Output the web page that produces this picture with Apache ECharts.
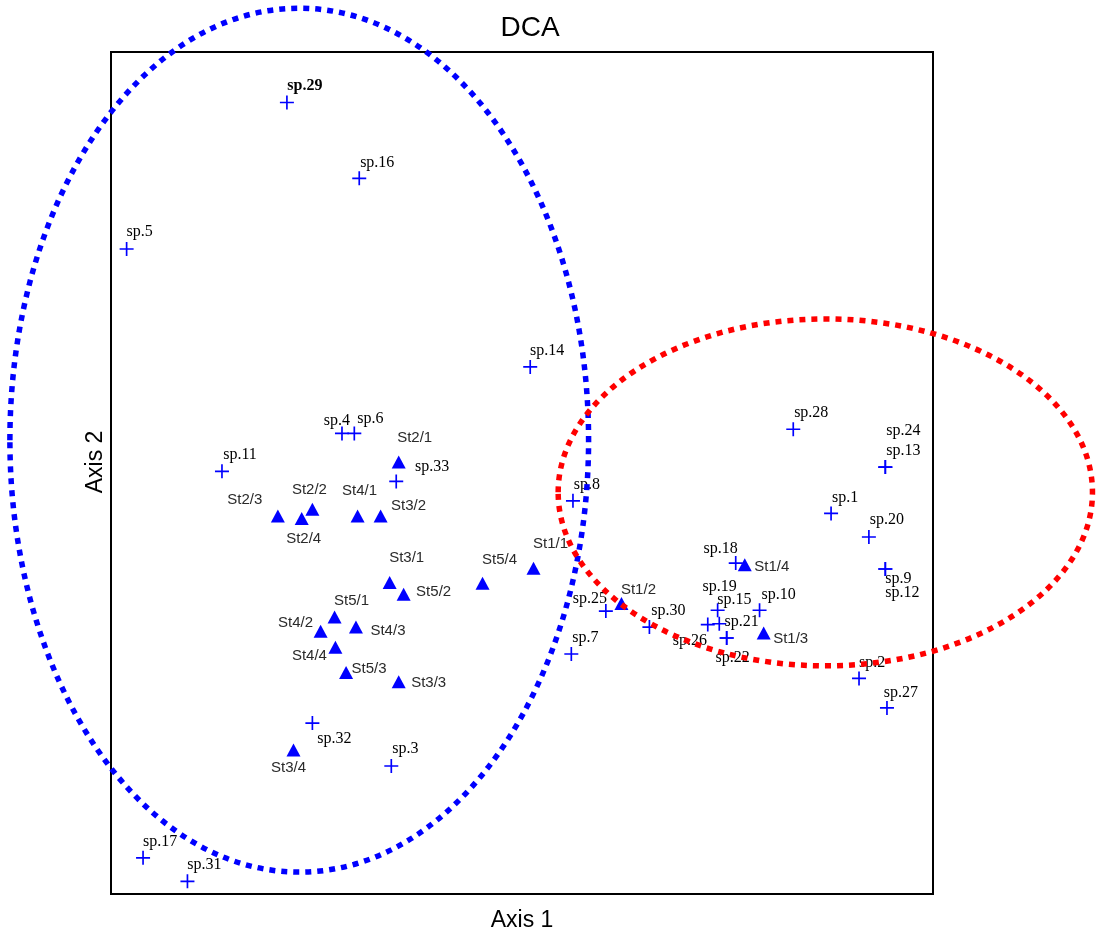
<!DOCTYPE html>
<html>
<head>
<meta charset="utf-8">
<title>DCA</title>
<script src="https://cdn.jsdelivr.net/npm/echarts@6/dist/echarts.min.js"></script>
<style>
  html, body { margin: 0; padding: 0; background: #fff; }
  #chart { width: 1096px; height: 934px; }
</style>
</head>
<body>
<div id="chart"></div>
<script>
// species scores on axis 1 / axis 2
var spNames = ['sp.1','sp.2','sp.3','sp.4','sp.5','sp.6','sp.7','sp.8','sp.9','sp.10','sp.11','sp.12','sp.13','sp.14','sp.15','sp.16','sp.17','sp.18','sp.19','sp.20','sp.21','sp.22','sp.24','sp.25','sp.26','sp.27','sp.28','sp.29','sp.30','sp.31','sp.32','sp.33'];
var spAxis1 = [87.6, 91.0, 34.1, 28.1, 1.9, 29.6, 56.0, 56.2, 94.2, 78.9, 13.5, 94.2, 94.2, 51.0, 74.0, 30.2, 3.9, 76.0, 73.8, 92.2, 74.9, 74.9, 94.2, 60.2, 72.6, 94.4, 83.0, 21.4, 65.5, 9.3, 24.5, 34.7];
var spAxis2 = [45.2, 25.6, 15.2, 54.7, 76.6, 54.7, 28.5, 46.7, 38.6, 33.7, 50.2, 38.6, 50.7, 62.6, 32.1, 85.0, 4.3, 39.3, 33.7, 42.4, 30.4, 30.4, 50.7, 33.6, 32.0, 22.1, 55.2, 94.0, 31.7, 1.5, 20.3, 49.0];

// station scores
var stNames = ['St1/1','St1/2','St1/3','St1/4','St2/1','St2/2','St2/3','St2/4','St3/1','St3/2','St3/3','St3/4','St4/1','St4/2','St4/3','St4/4','St5/1','St5/2','St5/3','St5/4'];
var stAxis1 = [51.4, 62.1, 79.4, 77.1, 35.0, 24.5, 20.3, 23.2, 33.9, 32.8, 35.0, 22.2, 30.0, 25.5, 29.8, 27.3, 27.2, 35.6, 28.6, 45.2];
var stAxis2 = [38.7, 34.5, 31.0, 39.1, 51.3, 45.7, 44.9, 44.6, 37.0, 44.9, 25.2, 17.1, 44.9, 31.2, 31.7, 29.3, 32.9, 35.6, 26.3, 36.9];

// group ellipses (centre and radii, axis units)
var ellAxis1 = [22.9, 86.9];
var ellAxis2 = [53.9, 47.7];
var ellRadius1 = [35.2, 32.5];
var ellRadius2 = [51.3, 20.6];

// label placement (pixels from the marker), kept apart from the scores
var spLabelOffset = [[14,-16],[13,-16],[14,-17],[-5,-13],[13,-17],[16,-15],[14,-16],[14,-16],[13,10],[19,-15],[18,-17],[17,24],[18,-16],[17,-16],[15,-24],[18,-16],[17,-16],[-15,-14],[2,-23],[18,-17],[15,-16],[6,20],[18,-36],[-16,-12],[-18,16],[14,-15],[18,-16],[18,-17],[19,-16],[17,-17],[22,16],[36,-15]];
var stLabelOffset = [[17,-24],[17,-14],[27,6],[27,2],[16,-24],[-3,-19],[-33,-16],[2,20],[17,-25],[28,-10],[30,1],[-5,18],[2,-25],[-25,-8],[32,4],[-26,9],[17,-16],[30,-2],[23,-4],[17,-23]];
var ellColors = ['#0000ff', '#ff0000'];

var crossPath = 'path://M4.4,0h1.2v10h-1.2z M0,4.4h10v1.2h-10z';

function buildPoints(names, xs, ys, offsets) {
  var result = [];
  for (var i = 0; i < names.length; i++) {
    var item = {
      name: names[i],
      value: [xs[i], ys[i]],
      label: { offset: offsets[i] }
    };
    // sp.29 is printed heavier in the original
    if (names[i] === 'sp.29') item.label.fontWeight = 'bold';
    result.push(item);
  }
  return result;
}

var ellData = [];
for (var i = 0; i < ellAxis1.length; i++) {
  ellData.push([ellAxis1[i], ellAxis2[i], ellRadius1[i], ellRadius2[i]]);
}

var myChart = echarts.init(document.getElementById('chart'), null, { renderer: 'canvas' });

var option = {
  backgroundColor: '#fff',
  animation: false,
  title: {
    text: 'DCA',
    left: 525,
    top: 9,
    textAlign: 'center',
    textStyle: { fontFamily: 'Liberation Sans', fontSize: 28, fontWeight: 'normal', color: '#000' }
  },
  grid: {
    left: 111, right: 163, top: 52, bottom: 40,
    outerBoundsMode: 'none',
    show: true,
    borderColor: '#000',
    borderWidth: 2,
    backgroundColor: 'transparent'
  },
  xAxis: {
    type: 'value', min: 0, max: 100,
    name: 'Axis 1',
    nameLocation: 'middle',
    nameGap: 15,
    nameTextStyle: { fontFamily: 'Liberation Sans', fontSize: 23, color: '#000', verticalAlign: 'top' },
    axisLine: { show: false }, axisTick: { show: false },
    axisLabel: { show: false }, splitLine: { show: false }
  },
  yAxis: {
    type: 'value', min: 0, max: 100,
    name: 'Axis 2',
    nameLocation: 'middle',
    nameRotate: 90,
    nameGap: 4,
    nameTextStyle: { fontFamily: 'Liberation Sans', fontSize: 23, color: '#000', padding: [0, 0, 0, 22] },
    axisLine: { show: false }, axisTick: { show: false },
    axisLabel: { show: false }, splitLine: { show: false }
  },
  series: [
    {
      name: 'species',
      type: 'scatter',
      symbol: crossPath,
      symbolSize: 14,
      itemStyle: { color: '#0000ff', opacity: 1 },
      label: {
        show: true,
        position: 'inside',
        formatter: '{b}',
        align: 'center',
        verticalAlign: 'middle',
        fontFamily: 'Liberation Serif',
        fontSize: 16,
        color: '#000'
      },
      data: buildPoints(spNames, spAxis1, spAxis2, spLabelOffset),
      z: 3
    },
    {
      name: 'stations',
      type: 'scatter',
      symbol: 'triangle',
      symbolSize: [14, 13],
      itemStyle: { color: '#0000ff', opacity: 1 },
      label: {
        show: true,
        position: 'inside',
        formatter: '{b}',
        align: 'center',
        verticalAlign: 'middle',
        fontFamily: 'Liberation Sans',
        fontSize: 15,
        color: '#2a2a2a'
      },
      data: buildPoints(stNames, stAxis1, stAxis2, stLabelOffset),
      z: 3
    },
    {
      name: 'groups',
      type: 'custom',
      clip: false,
      silent: true,
      encode: { x: 0, y: 1 },
      data: ellData,
      renderItem: function (params, api) {
        var c = api.coord([api.value(0), api.value(1)]);
        var s = api.size([api.value(2), api.value(3)]);
        return {
          type: 'ellipse',
          shape: { cx: c[0], cy: c[1], rx: s[0], ry: s[1] },
          style: {
            fill: 'none',
            stroke: ellColors[params.dataIndex],
            lineWidth: 5.5,
            lineDash: [6, 6]
          }
        };
      },
      z: 5
    }
  ]
};

myChart.setOption(option);
</script>
</body>
</html>
